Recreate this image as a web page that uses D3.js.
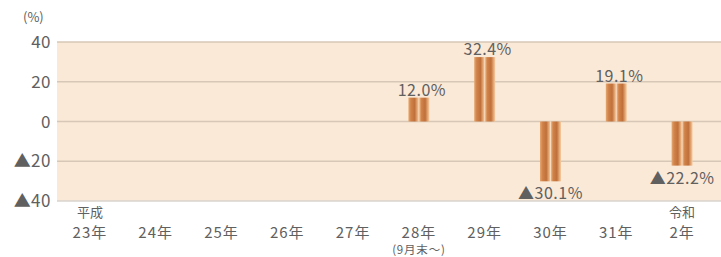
<!DOCTYPE html>
<html><head><meta charset="utf-8">
<script src="https://cdn.jsdelivr.net/npm/d3@7"></script>
<style>
body{margin:0;background:#fff;}
text{font-family:"Noto Sans CJK JP","Noto Sans",sans-serif;fill:#606060;}
</style></head>
<body><svg id="c" width="721" height="257"></svg>
<script>
const categories = ["23年","24年","25年","26年","27年","28年","29年","30年","31年","2年"];
const catPrefix = ["平成","","","","","","","","","令和"];
const catSuffix = ["","","","","","(9月末〜)","","","",""];
const values = [null,null,null,null,null,12.0,32.4,-30.1,19.1,-22.2];
const yTicks = [40,20,0,-20,-40];
const yTickLabels = ["40","20","0","▲20","▲40"];

const svg = d3.select("#c");
const M = {left:57, right:715, top:42, bottom:201};
const x = d3.scaleBand().domain(categories.map((d,i)=>i)).range([M.left,M.right]);
const y = d3.scaleLinear().domain([-40,40]).range([M.bottom,M.top]);

const defs = svg.append("defs");
const g = defs.append("linearGradient").attr("id","bar").attr("x1","0").attr("x2","1").attr("y1","0").attr("y2","0");
[[0,"#e6a872"],[0.12,"#d0834a"],[0.3,"#c0703a"],[0.45,"#ecb685"],[0.5,"#f8dcc0"],
 [0.55,"#e6a872"],[0.62,"#d0834a"],[0.8,"#c0703a"],[0.95,"#ecb685"],[1,"#f3cfa8"]]
 .forEach(([o,c])=>g.append("stop").attr("offset",o).attr("stop-color",c));

// background
svg.append("rect").attr("x",M.left).attr("y",M.top).attr("width",721-M.left).attr("height",M.bottom-M.top).attr("fill","#fbe9d7");

// gridlines
svg.append("g").selectAll("line").data(yTicks).join("line")
  .attr("x1",M.left).attr("x2",721).attr("y1",d=>y(d)).attr("y2",d=>y(d))
  .attr("stroke",d=>d===-40?"#d9d3cc":"#d6c7b6").attr("stroke-width",1.3);

// y labels
svg.append("g").selectAll("text").data(yTicks).join("text")
  .attr("x",51).attr("y",d=>y(d)+6).attr("text-anchor","end").attr("font-size",17)
  .attr("letter-spacing",0.5)
  .text((d,i)=>yTickLabels[i]);
svg.append("text").attr("x",23).attr("y",22).attr("font-size",13).text("(%)");

// bars
const bw = 21;
const data = values.map((v,i)=>({i,v})).filter(d=>d.v!==null);
svg.append("g").selectAll("rect").data(data).join("rect")
  .attr("x",d=>x(d.i)+x.bandwidth()/2-bw/2).attr("width",bw)
  .attr("y",d=>y(Math.max(0,d.v))).attr("height",d=>Math.abs(y(d.v)-y(0)))
  .attr("fill","url(#bar)");

// value labels
svg.append("g").selectAll("text").data(data).join("text")
  .attr("x",d=>x(d.i)+x.bandwidth()/2+ (d.v<0?0:3))
  .attr("y",d=>d.v>=0? y(d.v)-2 : y(d.v)+18)
  .attr("text-anchor","middle").attr("font-size",16).attr("letter-spacing",0.5)
  .text(d=>(d.v<0?"▲":"")+Math.abs(d.v).toFixed(1)+"%");

// category labels
const cl = svg.append("g");
categories.forEach((c,i)=>{
  const cx = x(i)+x.bandwidth()/2;
  if(catPrefix[i]) cl.append("text").attr("text-anchor","middle").attr("x",cx).attr("y",217).attr("font-size",13).text(catPrefix[i]);
  cl.append("text").attr("text-anchor","middle").attr("x",cx).attr("y",238).attr("font-size",15).attr("letter-spacing",1).text(c);
  if(catSuffix[i]) cl.append("text").attr("text-anchor","middle").attr("x",cx).attr("y",253.5).attr("font-size",11.5).attr("letter-spacing",0.8).text(catSuffix[i]);
});
</script></body></html>
